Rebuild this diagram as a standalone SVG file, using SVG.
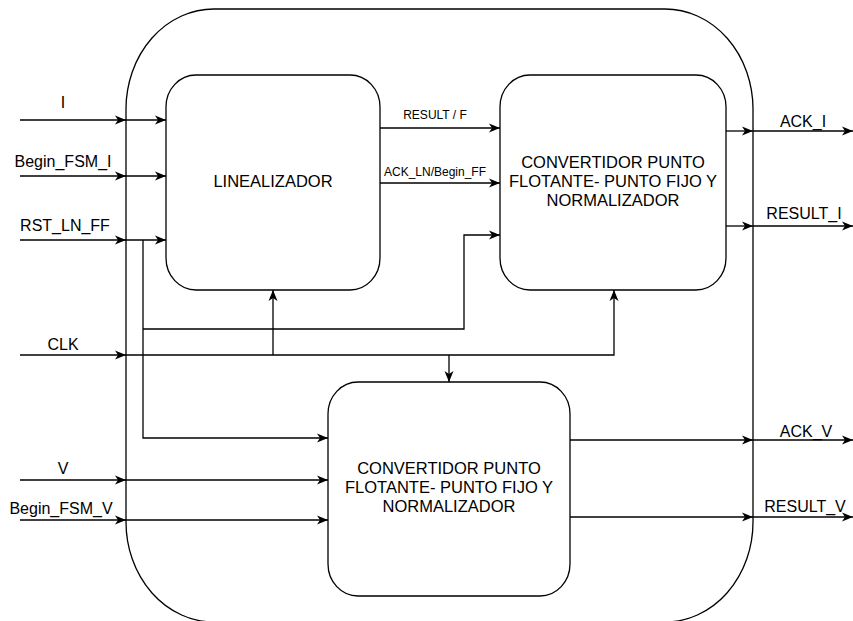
<svg xmlns="http://www.w3.org/2000/svg" width="853" height="621" viewBox="0 0 853 621">
<style>
.box{fill:#fff;stroke:#000;stroke-width:1.3}
.ln{fill:none;stroke:#000;stroke-width:1.3}
.t{font-family:"Liberation Sans",Arial,sans-serif;font-size:16px;fill:#000}
.n{font-family:"Liberation Sans",Arial,sans-serif;font-size:16.5px;fill:#000}
.s{font-family:"Liberation Sans",Arial,sans-serif;font-size:12px;fill:#000}
.c{text-anchor:middle}
</style>
<defs>
<marker id="a" markerWidth="12" markerHeight="10" refX="11" refY="5" orient="auto" markerUnits="userSpaceOnUse">
<path d="M0,0.5 L11,5 L0,9.5 L3,5 Z" fill="#000"/>
</marker>
</defs>
<g id="outer">
<path class="box" d="M214 9 H665 A88 100 0 0 1 753 109 V522 A88 100 0 0 1 665 622 H214 A88 100 0 0 1 126 522 V109 A88 100 0 0 1 214 9 Z"/>
</g>
<g id="linealizador">
<rect class="box" x="166" y="75" width="214" height="215" rx="30" ry="32"/>
<text class="n c" x="273" y="187">LINEALIZADOR</text>
</g>
<g id="convertidor1">
<rect class="box" x="500" y="75" width="226" height="215" rx="30" ry="32"/>
<text class="n c" x="613" y="168">CONVERTIDOR PUNTO</text>
<text class="n c" x="613" y="187">FLOTANTE- PUNTO FIJO Y</text>
<text class="n c" x="613" y="206">NORMALIZADOR</text>
</g>
<g id="convertidor2">
<rect class="box" x="328" y="382" width="242" height="214" rx="30" ry="32"/>
<text class="n c" x="449" y="474">CONVERTIDOR PUNTO</text>
<text class="n c" x="449" y="493">FLOTANTE- PUNTO FIJO Y</text>
<text class="n c" x="449" y="512">NORMALIZADOR</text>
</g>
<g id="connectors">
<path class="ln" d="M20 120 H126" marker-end="url(#a)"/>
<path class="ln" d="M126 120 H166" marker-end="url(#a)"/>
<path class="ln" d="M20 176 H126" marker-end="url(#a)"/>
<path class="ln" d="M126 176 H166" marker-end="url(#a)"/>
<path class="ln" d="M20 240 H126" marker-end="url(#a)"/>
<path class="ln" d="M126 240 H166" marker-end="url(#a)"/>
<path class="ln" d="M20 355 H126" marker-end="url(#a)"/>
<path class="ln" d="M20 480 H126" marker-end="url(#a)"/>
<path class="ln" d="M126 480 H328" marker-end="url(#a)"/>
<path class="ln" d="M20 520 H126" marker-end="url(#a)"/>
<path class="ln" d="M126 520 H328" marker-end="url(#a)"/>
<path class="ln" d="M143 240 V438 H328" marker-end="url(#a)"/>
<path class="ln" d="M143 329 H464 V235 H500" marker-end="url(#a)"/>
<path class="ln" d="M126 355 H614 V290" marker-end="url(#a)"/>
<path class="ln" d="M273 355 V290" marker-end="url(#a)"/>
<path class="ln" d="M449 355 V382" marker-end="url(#a)"/>
<path class="ln" d="M380 128 H500" marker-end="url(#a)"/>
<path class="ln" d="M380 183 H500" marker-end="url(#a)"/>
<path class="ln" d="M726 131 H753" marker-end="url(#a)"/>
<path class="ln" d="M753 131 H853" marker-end="url(#a)"/>
<path class="ln" d="M726 226 H753" marker-end="url(#a)"/>
<path class="ln" d="M753 226 H853" marker-end="url(#a)"/>
<path class="ln" d="M570 440 H753" marker-end="url(#a)"/>
<path class="ln" d="M753 440 H853" marker-end="url(#a)"/>
<path class="ln" d="M570 517 H753" marker-end="url(#a)"/>
<path class="ln" d="M753 517 H853" marker-end="url(#a)"/>
</g>
<g id="labels">
<text class="t c" x="63" y="108">I</text>
<text class="t c" x="63" y="167">Begin_FSM_I</text>
<text class="t c" x="65" y="231">RST_LN_FF</text>
<text class="t c" x="63" y="350">CLK</text>
<text class="t c" x="63" y="474">V</text>
<text class="t c" x="61" y="514">Begin_FSM_V</text>
<text class="s c" x="435" y="119">RESULT / F</text>
<text class="s c" x="435" y="176">ACK_LN/Begin_FF</text>
<text class="t c" x="803" y="127">ACK_I</text>
<text class="t c" x="804" y="219">RESULT_I</text>
<text class="t c" x="806" y="437">ACK_V</text>
<text class="t c" x="805" y="512">RESULT_V</text>
</g>
</svg>
